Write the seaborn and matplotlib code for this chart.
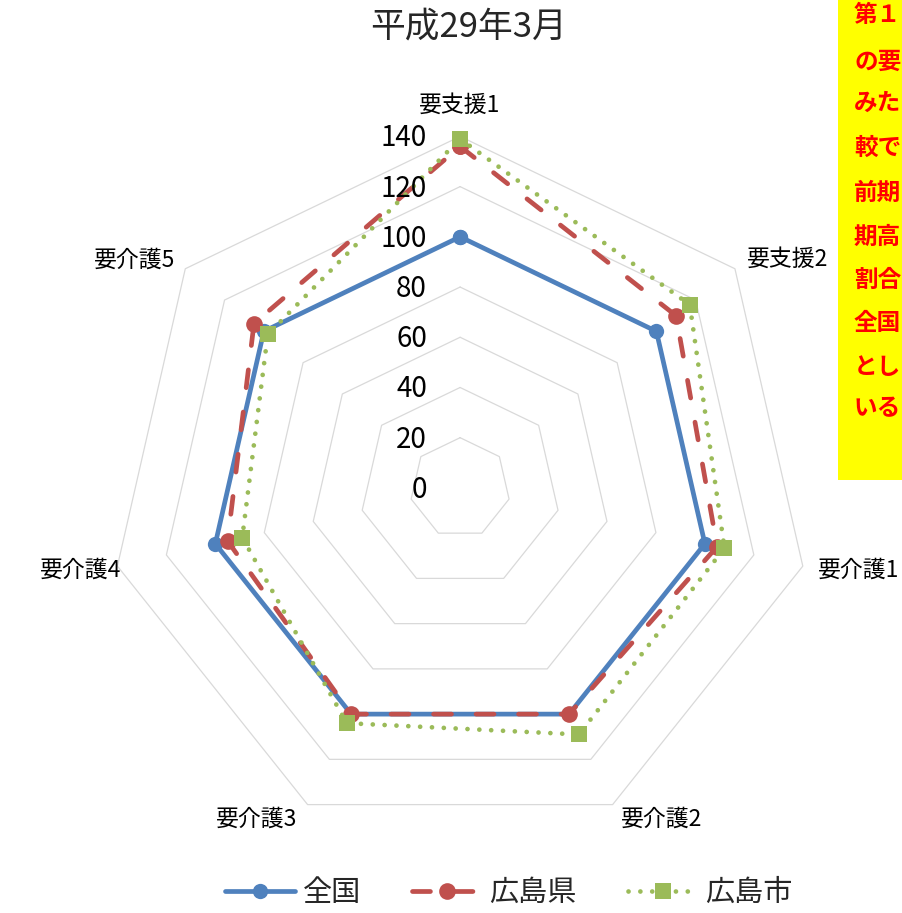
import numpy as np
import pandas as pd
import matplotlib
matplotlib.use('Agg')
import matplotlib.pyplot as plt
import seaborn as sns
from matplotlib.patches import Rectangle

# ---- data ----
categories = ['要支援1', '要支援2', '要介護1', '要介護2', '要介護3', '要介護4', '要介護5']
zenkoku = [100, 100, 100, 100, 100, 100, 100]
hiroshima_ken = [136, 110, 105, 100, 100, 95, 105]
hiroshima_shi = [139, 117, 108, 109, 104, 89, 98]
series_names = ['全国', '広島県', '広島市']
r_ticks = [0, 20, 40, 60, 80, 100, 120, 140]
title_text = '平成29年3月'
note_lines = ['第１', 'の要', 'みた', '較で', '前期', '期高', '割合', '全国', 'とし', 'いる']

sns.set_theme(style='white')
plt.rcParams['font.family'] = ['Noto Sans CJK JP', 'DejaVu Sans']

fig = plt.figure(figsize=(9.02, 9.13), dpi=100)
ax = fig.add_axes([0.1204, 0.0806, 0.7794, 0.770], projection='polar')
ax.set_theta_zero_location('N')
ax.set_theta_direction(-1)
ax.set_ylim(0, 140)
ax.grid(False)
ax.spines['polar'].set_visible(False)
ax.set_xticks([])
ax.set_yticks([])
ax.set_facecolor('none')

n = len(categories)
theta = np.linspace(0, 2 * np.pi, n, endpoint=False)
theta_c = np.append(theta, 2 * np.pi)

# polygon grid
for lv in r_ticks[1:]:
    ax.plot(theta_c, [lv] * (n + 1), color='#D9D9D9', lw=0.9, zorder=0, clip_on=False)

styles = [
    dict(color='#4F81BD', marker='o', ms=11, dashes=None),
    dict(color='#C0504D', marker='o', ms=12, dashes=(3.8, 5.2)),
    dict(color='#9BBB59', marker='s', ms=11, dashes=(0.01, 2.5)),
]
handles = []
for name, vals, st in zip(series_names, [zenkoku, hiroshima_ken, hiroshima_shi], styles):
    df = pd.DataFrame({'theta': theta_c, 'value': list(vals) + [vals[0]]})
    sns.lineplot(data=df, x='theta', y='value', ax=ax, sort=False, color=st['color'],
                 lw=3.4, marker=st['marker'], markersize=st['ms'], label=name)
    ln = ax.lines[-1]
    ln.set_markeredgewidth(0)
    ln.set_markerfacecolor(st['color'])
    ln.set_clip_on(False)
    if st['dashes'] is not None:
        ln.set_dashes(st['dashes'])
        ln.set_dash_capstyle('round')
    else:
        ln.set_solid_capstyle('round')
    handles.append(ln)

if ax.get_legend() is not None:
    ax.get_legend().remove()
ax.set_xlabel('')
ax.set_ylabel('')

# radial tick labels
for v in r_ticks:
    ax.annotate(str(v), xy=(0, v), xytext=(-33, -2), textcoords='offset pixels',
                ha='right', va='center', fontsize=20, color='black')

# category labels
offsets = [(0, 20, 'center', 'bottom'), (12, 9, 'left', 'center'), (15, -4, 'left', 'center'),
           (8, -15, 'left', 'center'), (-10, -15, 'right', 'center'), (4, -4, 'right', 'center'),
           (-10, 9, 'right', 'center')]
for cat, t, (dx, dy, ha, va) in zip(categories, theta, offsets):
    ax.annotate(cat, xy=(t, 140), xytext=(dx, dy), textcoords='offset pixels',
                ha=ha, va=va, fontsize=16.5, color='black', annotation_clip=False)

fig.text(469 / 902, 1 - 27 / 913, title_text, ha='center', va='center', fontsize=25)

fig.legend(handles=handles, labels=series_names, loc='center', bbox_to_anchor=(0.564, 0.022),
           ncol=3, frameon=False, fontsize=21, handlelength=2.4, handletextpad=0.25,
           columnspacing=1.75, numpoints=1)

# yellow note box at the right edge
fig.patches.append(Rectangle((838 / 902, 1 - 480 / 913), 0.1, 480 / 913,
                             transform=fig.transFigure, facecolor='#FFFF00', edgecolor='none',
                             zorder=5))
ys = [15, 62, 103, 148, 193, 237, 280, 323, 367, 408]
for s, y in zip(note_lines, ys):
    fig.text(854 / 902, 1 - y / 913, s, ha='left', va='center', fontsize=17,
             fontweight='bold', color='#FF0000', zorder=6)

fig.savefig('out.png', dpi=100)
